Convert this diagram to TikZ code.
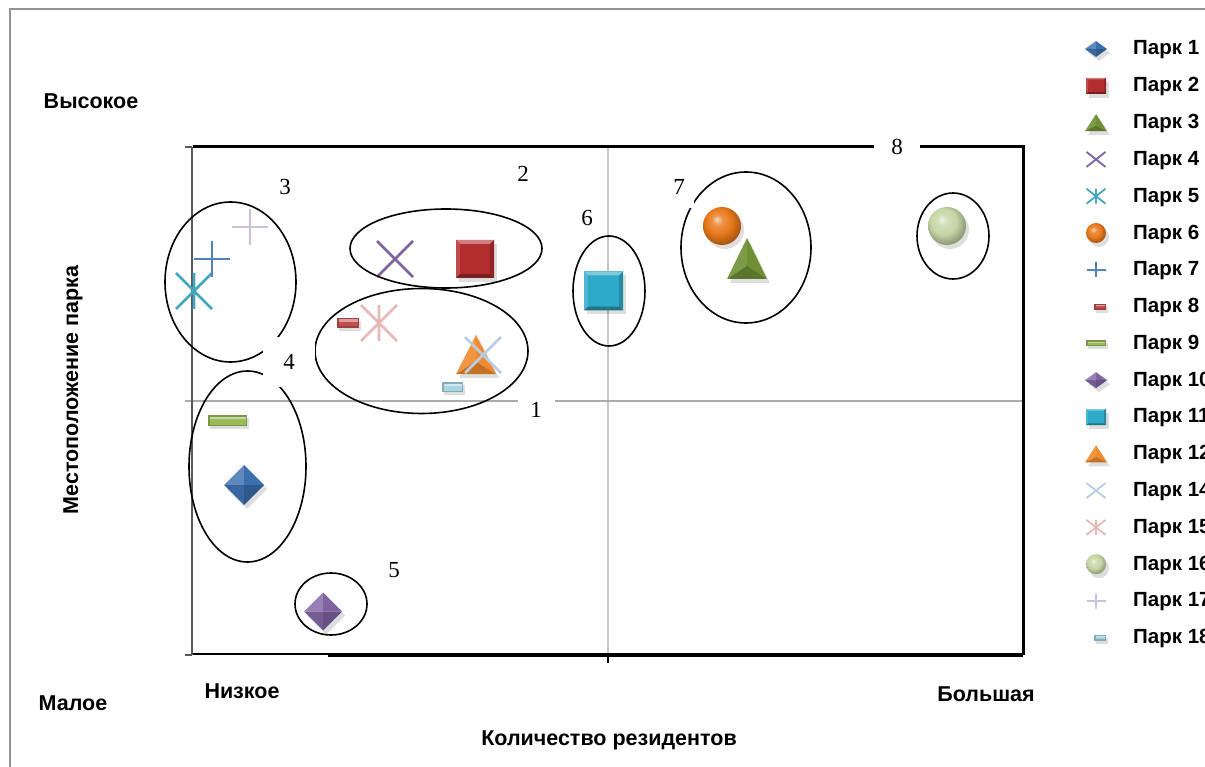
\documentclass[tikz,border=0pt]{standalone}
\usepackage{fontspec}
\setmainfont{Liberation Serif}
\setsansfont{Liberation Sans}
\definecolor{cBlue}{HTML}{3C6FAE}
\definecolor{cRed}{HTML}{B22E2E}
\definecolor{cGreen}{HTML}{6F8F33}
\definecolor{cPurple}{HTML}{7F63A1}
\definecolor{cTeal}{HTML}{45A6BF}
\definecolor{cOrange}{HTML}{E8781A}
\definecolor{cBlueL}{HTML}{4F81BD}
\definecolor{cRedL}{HTML}{C0504D}
\definecolor{cGreenL}{HTML}{9BBB59}
\definecolor{cPurpleL}{HTML}{8064A2}
\definecolor{cTealS}{HTML}{2FA9C8}
\definecolor{cOrangeL}{HTML}{F08A2B}
\definecolor{cIce}{HTML}{B9CDE5}
\definecolor{cPink}{HTML}{E6B9B8}
\definecolor{cSage}{HTML}{C5D6A6}
\definecolor{cLilac}{HTML}{CCC1DA}
\definecolor{cAqua}{HTML}{A9D6E3}
\colorlet{sbase}{cOrange}
\pgfdeclareradialshading[sbase]{softball}{\pgfqpoint{-7bp}{9bp}}{%
 color(0bp)=(sbase!30!white); color(7bp)=(sbase!80!white); color(17bp)=(sbase);
 color(28bp)=(sbase!72!black); color(50bp)=(sbase!65!black)}
% markers
\newcommand\mkDiam[5]{%
 \begin{scope}[shift={(#1,#2)}]
 \fill[black,opacity=.13,shift={(3,4)}] (-#3,0)--(0,-#4)--(#3,0)--(0,#4)--cycle;
 \fill[#5!82!white] (0,0)--(-#3,0)--(0,-#4)--cycle;
 \fill[#5] (0,0)--(0,-#4)--(#3,0)--cycle;
 \fill[#5!92!black] (0,0)--(-#3,0)--(0,#4)--cycle;
 \fill[#5!80!black] (0,0)--(#3,0)--(0,#4)--cycle;
 \end{scope}}
\newcommand\mkSq[5]{%
 \begin{scope}[shift={(#1,#2)}]
 \fill[black,opacity=.13,shift={(3,4)}] (-#3,-#4) rectangle (#3,#4);
 \fill[#5] (-#3,-#4) rectangle (#3,#4);
 \fill[#5!62!white] (-#3,-#4)--(#3,-#4)--(0.8*#3,-0.8*#4)--(-0.8*#3,-0.8*#4)--cycle;
 \fill[#5!85!white] (-#3,-#4)--(-#3,#4)--(-0.8*#3,0.8*#4)--(-0.8*#3,-0.8*#4)--cycle;
 \fill[#5!82!black] (#3,-#4)--(#3,#4)--(0.8*#3,0.8*#4)--(0.8*#3,-0.8*#4)--cycle;
 \fill[#5!68!black] (-#3,#4)--(#3,#4)--(0.8*#3,0.8*#4)--(-0.8*#3,0.8*#4)--cycle;
 \end{scope}}
\newcommand\mkTri[5]{%
 \begin{scope}[shift={(#1,#2)}]
 \fill[black,opacity=.13,shift={(3,4)}] (0,-#4)--(-#3,#4)--(#3,#4)--cycle;
 \fill[#5!90!white] (0,-#4)--(-#3,#4)--(0,0.35*#4)--cycle;
 \fill[#5] (0,-#4)--(#3,#4)--(0,0.35*#4)--cycle;
 \fill[#5!82!black] (-#3,#4)--(#3,#4)--(0,0.35*#4)--cycle;
 \end{scope}}
\newcommand\mkBall[4]{%
 \fill[black,opacity=.13] (#1+3,#2+4) circle (#3);
 \colorlet{sbase}{#4}%
 \shade[shading=softball] (#1,#2) circle (#3);}
\newcommand\mkX[6]{%
 \draw[#5,line width=#6] (#1-#3,#2-#4)--(#1+#3,#2+#4) (#1-#3,#2+#4)--(#1+#3,#2-#4);}
\newcommand\mkPlus[6]{%
 \draw[#5,line width=#6] (#1-#3,#2)--(#1+#3,#2) (#1,#2-#4)--(#1,#2+#4);}
\newcommand\mkAst[6]{%
 \draw[#5,line width=#6] (#1-#3,#2-#4)--(#1+#3,#2+#4) (#1-#3,#2+#4)--(#1+#3,#2-#4) (#1,#2-#4)--(#1,#2+#4);}
\newcommand\mkBar[5]{%
 \begin{scope}[shift={(#1,#2)}]
 \fill[black,opacity=.13,shift={(2,3)}] (-#3,-#4) rectangle (#3,#4);
 \fill[#5!80!black] (-#3,-#4) rectangle (#3,#4);
 \fill[#5] (-#3+1.5,-#4+1.5) rectangle (#3-1.5,#4-1.5);
 \fill[#5!55!white] (-#3+1.5,-#4+1.5) rectangle (#3-1.5,-0.2*#4);
 \end{scope}}
\begin{document}
\begin{tikzpicture}[x=1pt,y=-1pt,
  lab/.style={font=\sffamily\bfseries\fontsize{21.5}{24}\selectfont, inner sep=0pt},
  leg/.style={font=\sffamily\bfseries\fontsize{20.5}{24}\selectfont, anchor=west, inner sep=0pt},
  num/.style={font=\rmfamily\fontsize{23}{26}\selectfont, inner sep=0pt},
  numbox/.style={num, fill=white},
  oval/.style={draw=black, line width=1.6pt},
  grid/.style={line width=2pt}]
\useasboundingbox (0,0) rectangle (1205,767);
\clip (0,0) rectangle (1205,767);
\fill[white] (0,0) rectangle (1205,767);
% outer frame
\draw[gray!85, line width=1.5pt] (10,770) -- (10,9) -- (1210,9);
% grid midlines
\draw[grid, gray!45] (608,147) -- (608,655);
\draw[grid, gray!65] (185,401) -- (1023,401);
% left axis
\draw[gray!70!black, line width=2.5pt] (192,147) -- (192,655);
\draw[gray!70!black, line width=1.5pt] (185,147) -- (192,147) (185,655) -- (192,655);
% box
\draw[black, line width=3pt] (193,147) -- (1023,147) -- (1023,655);
\draw[black, line width=2.5pt] (193,654) -- (1023,654);
\draw[black, line width=2.5pt] (328,656) -- (1023,656);
\draw[black, line width=2.5pt] (608,654) -- (608,663);
% markers in plot
\mkAst{194}{291}{18}{18}{cTeal}{2.6pt}
\mkPlus{212}{259}{18}{18}{cBlueL}{2.6pt}
\mkPlus{250}{227}{18}{18}{cLilac}{2.6pt}
\mkX{395}{259}{18}{18}{cPurple}{2.6pt}
\mkSq{475}{259}{19}{19}{cRed}
\mkBar{348}{323}{11}{5}{cRedL}
\mkAst{379}{323}{18}{18}{cPink}{2.6pt}
\mkTri{476}{354.5}{20}{19.5}{cOrangeL}
\mkX{483}{355}{18}{18}{cIce}{2.6pt}
\mkBar{452.5}{387}{10.5}{5}{cAqua}
\mkBar{227.5}{420.5}{19.5}{5.5}{cGreenL}
\mkDiam{244}{485}{20}{20}{cBlue}
\mkDiam{323}{611.5}{19}{19}{cPurpleL}
\mkSq{603.5}{291}{19.5}{19.5}{cTealS}
\mkBall{722}{226}{19}{cOrange}
\mkTri{747}{258.5}{20}{20.5}{cGreen}
\mkBall{947}{226}{19}{cSage}
% ovals
\draw[oval] (230.5,282) ellipse [x radius=65.5, y radius=80];
\draw[oval] (446,248.5) ellipse [x radius=96, y radius=39.5];
\draw[oval] (421.5,351) ellipse [x radius=106.5, y radius=62.5];
\draw[oval] (247.5,466.5) ellipse [x radius=58.5, y radius=95.5];
\draw[oval] (331,604) ellipse [x radius=36, y radius=31];
\draw[oval] (609,291) ellipse [x radius=36, y radius=55];
\draw[oval] (746,247.5) ellipse [x radius=65, y radius=75.5];
\draw[oval] (953,236) ellipse [x radius=36, y radius=43];
% group numbers
\node[numbox, minimum width=37pt, minimum height=40pt] (n1) at (536,410) {1};
\node[num] (n2) at (523,174) {2};
\node[num] (n3) at (285,187) {3};
\node[numbox, minimum width=52pt, minimum height=49pt] (n4) at (289,362) {4};
\node[num] (n5) at (394,570) {5};
\node[num] (n6) at (587,218) {6};
\node[numbox, minimum width=30pt, minimum height=42pt] (n7) at (679,187) {7};
\node[numbox, minimum width=46pt, minimum height=30pt] (n8) at (897,147) {8};
% axis texts
\node[lab] (hi) at (91,101) {Высокое};
\node[lab] (lo) at (73,703) {Малое};
\node[lab] (xlo) at (242,691) {Низкое};
\node[lab] (xhi) at (986,694) {Большая};
\node[lab] (xt) at (609,740) {Количество резидентов};
\node[lab, rotate=90] (yt) at (73,390) {Местоположение парка};
% legend
\mkDiam{1096}{49}{11}{8}{cBlue}
\mkSq{1096}{85.8}{10}{8}{cRed}
\mkTri{1096}{122.6}{11}{8.5}{cGreen}
\mkX{1096}{159.4}{9.5}{7.5}{cPurple}{1.8pt}
\mkAst{1096}{196.2}{9.5}{7.5}{cTeal}{1.8pt}
\mkBall{1096}{233}{10}{cOrange}
\mkPlus{1096}{269.8}{9.5}{7.5}{cBlueL}{1.8pt}
\mkBar{1100}{306.6}{6}{3}{cRedL}
\mkBar{1096}{343.4}{10}{3}{cGreenL}
\mkDiam{1096}{380.2}{11}{8}{cPurpleL}
\mkSq{1096}{417}{10}{8}{cTealS}
\mkTri{1096}{453.8}{11}{8.5}{cOrangeL}
\mkX{1096}{490.6}{9.5}{7.5}{cIce}{1.8pt}
\mkAst{1096}{527.4}{9.5}{7.5}{cPink}{1.8pt}
\mkBall{1096}{564.2}{10}{cSage}
\mkPlus{1096}{601}{9.5}{7.5}{cLilac}{1.8pt}
\mkBar{1100}{637.8}{6}{3}{cAqua}
\node[leg] (g1) at (1133,50) {Парк 1};
\node[leg] (g2) at (1133,86.8) {Парк 2};
\node[leg] (g3) at (1133,123.6) {Парк 3};
\node[leg] (g4) at (1133,160.4) {Парк 4};
\node[leg] (g5) at (1133,197.2) {Парк 5};
\node[leg] (g6) at (1133,234) {Парк 6};
\node[leg] (g7) at (1133,270.8) {Парк 7};
\node[leg] (g8) at (1133,307.6) {Парк 8};
\node[leg] (g9) at (1133,344.4) {Парк 9};
\node[leg] (g10) at (1133,381.2) {Парк 10};
\node[leg] (g11) at (1133,418) {Парк 11};
\node[leg] (g12) at (1133,454.8) {Парк 12};
\node[leg] (g14) at (1133,491.6) {Парк 14};
\node[leg] (g15) at (1133,528.4) {Парк 15};
\node[leg] (g16) at (1133,565.2) {Парк 16};
\node[leg] (g17) at (1133,602) {Парк 17};
\node[leg] (g18) at (1133,638.8) {Парк 18};
\end{tikzpicture}
\end{document}
